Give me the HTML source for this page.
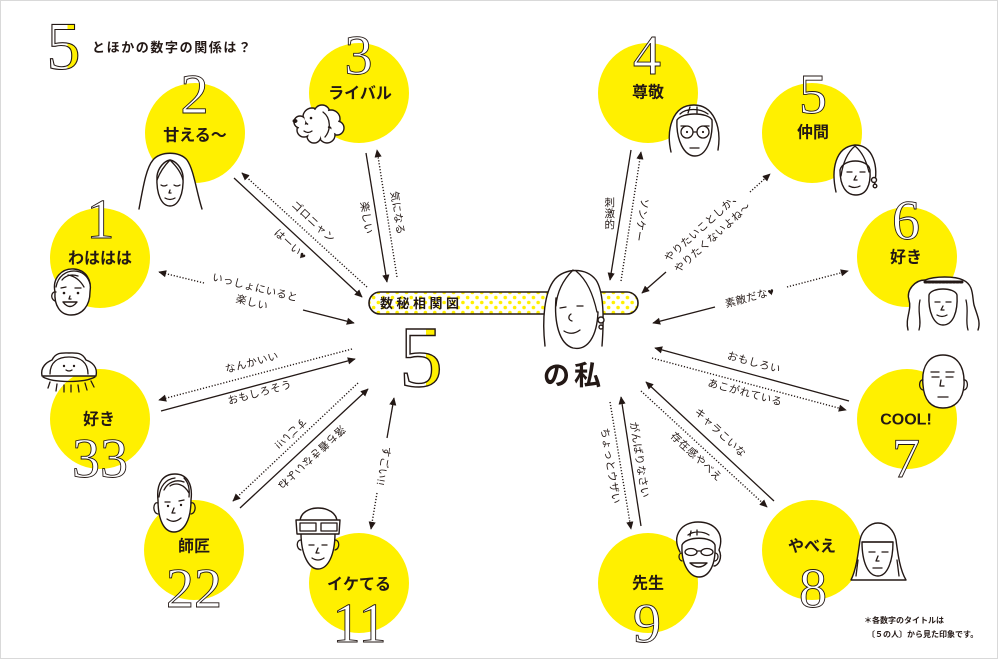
<!DOCTYPE html>
<html><head><meta charset="utf-8">
<style>
html,body{margin:0;padding:0;background:#fff;}
svg{display:block;}
.cl{font-family:"Liberation Sans","Noto Sans CJK JP",sans-serif;font-weight:bold;font-size:16px;fill:#231815;}
.l{font-family:"Liberation Sans","Noto Sans CJK JP",sans-serif;font-size:10.5px;fill:#231815;letter-spacing:0.5px;}
.dg{font-family:"Liberation Serif",serif;font-size:56px;fill:#fff;stroke:#231815;stroke-width:0.9;}
.f{fill:#fff;stroke:#231815;stroke-width:1.4;stroke-linecap:round;stroke-linejoin:round;}
.s{fill:none;stroke:#231815;stroke-width:1.3;stroke-linecap:round;stroke-linejoin:round;}
.ln{stroke:#231815;stroke-width:1.3;fill:none;}
.dt{stroke:#231815;stroke-width:1.4;fill:none;stroke-dasharray:1.2 1.8;}
</style></head>
<body>
<svg width="1000" height="660" viewBox="0 0 1000 660" xmlns="http://www.w3.org/2000/svg">
<defs>
<marker id="a" viewBox="0 0 10 10" refX="9" refY="5" markerWidth="8" markerHeight="8" markerUnits="userSpaceOnUse" orient="auto">
<path d="M0,0.5 L10,5 L0,9.5 z" fill="#231815"/></marker>
<pattern id="dots" width="9.4" height="10" patternUnits="userSpaceOnUse">
<rect width="9.4" height="10" fill="#fff"/>
<circle cx="2.35" cy="2.5" r="1.8" fill="#fff000"/>
<circle cx="7.05" cy="7.5" r="1.8" fill="#fff000"/>
</pattern>
<linearGradient id="hy" x1="0" y1="0" x2="1" y2="0">
<stop offset="0" stop-color="#fff"/><stop offset="0.62" stop-color="#fff"/>
<stop offset="0.62" stop-color="#fff000"/><stop offset="1" stop-color="#fff000"/>
</linearGradient>
</defs>
<rect x="0.5" y="0.5" width="997" height="658" fill="#fff" stroke="#d9d9d9" stroke-width="1"/>

<!-- circles -->
<g fill="#fff000">
<circle cx="100" cy="258" r="50"/>
<circle cx="195" cy="133" r="50"/>
<circle cx="359" cy="93" r="50"/>
<circle cx="100" cy="419" r="50"/>
<circle cx="194" cy="550" r="50"/>
<circle cx="359" cy="583" r="50"/>
<circle cx="648" cy="93" r="50"/>
<circle cx="812" cy="133" r="50"/>
<circle cx="907" cy="257" r="50"/>
<circle cx="907" cy="419" r="50"/>
<circle cx="812" cy="550" r="50"/>
<circle cx="648" cy="583" r="50"/>
</g>

<!-- title -->
<text x="63.5" y="69" text-anchor="middle" class="dg" style="font-size:68px;fill:url(#hy);stroke-width:1.1;">5</text>
<text x="92" y="52" style="font-family:'Liberation Sans','Noto Sans CJK JP',sans-serif;font-weight:bold;font-size:13px;letter-spacing:1.6px;fill:#231815;">とほかの数字の関係は？</text>

<!-- digits -->
<text class="dg" x="194.5" y="113" text-anchor="middle">2</text>
<text class="dg" x="100.5" y="238" text-anchor="middle">1</text>
<text class="dg" x="358.5" y="74" text-anchor="middle">3</text>
<text class="dg" x="647" y="74" text-anchor="middle">4</text>
<text class="dg" x="813" y="113" text-anchor="middle">5</text>
<text class="dg" x="906" y="239" text-anchor="middle">6</text>
<text class="dg" x="906" y="477" text-anchor="middle">7</text>
<text class="dg" x="813" y="607" text-anchor="middle">8</text>
<text class="dg" x="647" y="642" text-anchor="middle">9</text>
<text class="dg" x="100" y="477" text-anchor="middle">33</text>
<text class="dg" x="194" y="607" text-anchor="middle">22</text>
<text class="dg" x="359.5" y="642" text-anchor="middle">11</text>

<!-- circle labels -->
<g class="cl" text-anchor="middle" dominant-baseline="central">
<text x="100" y="259">わははは</text>
<text x="195" y="136">甘える〜</text>
<text x="360" y="94">ライバル</text>
<text x="99" y="420">好き</text>
<text x="194" y="547">師匠</text>
<text x="359" y="585">イケてる</text>
<text x="648" y="93">尊敬</text>
<text x="813" y="133">仲間</text>
<text x="906" y="258">好き</text>
<text x="906" y="420">COOL!</text>
<text x="812" y="547">やべえ</text>
<text x="648" y="584">先生</text>
</g>

<!-- connectors -->
<g>
<line class="ln" x1="234" y1="178" x2="362" y2="297" marker-end="url(#a)"/>
<line class="dt" x1="367" y1="287" x2="242" y2="173" marker-end="url(#a)"/>
<line class="ln" x1="366" y1="153" x2="387" y2="282" marker-end="url(#a)"/>
<line class="dt" x1="397" y1="277" x2="377" y2="150" marker-end="url(#a)"/>
<line class="dt" x1="204" y1="283" x2="159" y2="272" marker-end="url(#a)"/>
<line class="ln" x1="303" y1="310" x2="354" y2="323" marker-end="url(#a)"/>
<line class="dt" x1="352" y1="349" x2="159" y2="400" marker-end="url(#a)"/>
<line class="ln" x1="161" y1="411" x2="355" y2="359" marker-end="url(#a)"/>
<line class="dt" x1="358" y1="383" x2="233" y2="501" marker-end="url(#a)"/>
<line class="ln" x1="240" y1="508" x2="368" y2="389" marker-end="url(#a)"/>
<line class="ln" x1="387" y1="438" x2="394" y2="398" marker-end="url(#a)"/>
<line class="dt" x1="377" y1="493" x2="371" y2="529" marker-end="url(#a)"/>

<line class="ln" x1="631" y1="150" x2="610" y2="280" marker-end="url(#a)"/>
<line class="dt" x1="621" y1="281" x2="641" y2="152" marker-end="url(#a)"/>
<line class="dt" x1="750" y1="192" x2="770" y2="174" marker-end="url(#a)"/>
<line class="ln" x1="666" y1="272" x2="642" y2="293" marker-end="url(#a)"/>
<line class="dt" x1="787" y1="287" x2="848" y2="271" marker-end="url(#a)"/>
<line class="ln" x1="715" y1="307" x2="653" y2="323" marker-end="url(#a)"/>
<line class="ln" x1="849" y1="401" x2="655" y2="348" marker-end="url(#a)"/>
<line class="dt" x1="652" y1="358" x2="846" y2="410" marker-end="url(#a)"/>
<line class="ln" x1="774" y1="501" x2="646" y2="382" marker-end="url(#a)"/>
<line class="dt" x1="641" y1="391" x2="767" y2="507" marker-end="url(#a)"/>
<line class="dt" x1="610" y1="402" x2="631" y2="529" marker-end="url(#a)"/>
<line class="ln" x1="641" y1="526" x2="621" y2="397" marker-end="url(#a)"/>
</g>

<!-- connector labels -->
<g class="l" text-anchor="middle" dominant-baseline="central">
<text transform="translate(313,222) rotate(43)">ゴロニャン</text>
<text transform="translate(290,245) rotate(43)">はーい♥</text>
<text transform="translate(366,218) rotate(81)">楽しい</text>
<text transform="translate(397,213) rotate(81)">気になる</text>
<text transform="translate(255,288) rotate(14)">いっしょにいると</text>
<text transform="translate(252,303) rotate(14)">楽しい</text>
<text transform="translate(252,363) rotate(-15)">なんかいい</text>
<text transform="translate(260,393) rotate(-15)">おもしろそう</text>
<text transform="translate(290,433) rotate(137)">すごい!!</text>
<text transform="translate(311,457) rotate(137)">落ち着きないよね</text>
<text transform="translate(383,466) rotate(100)">すごい!!</text>

<text x="610" y="203">刺</text>
<text x="610" y="214">激</text>
<text x="610" y="225">的</text>
<text transform="translate(641,220) rotate(99)">ソンケー</text>
<text transform="translate(703,227) rotate(-42)">やりたいことしか、</text>
<text transform="translate(713,238) rotate(-42)">やりたくないよね〜</text>
<text transform="translate(750,298) rotate(-15)">素敵だな♥</text>
<text transform="translate(754,363) rotate(15)">おもしろい</text>
<text transform="translate(745,393) rotate(15)">あこがれている</text>
<text transform="translate(720,433) rotate(43)">キャラこいな</text>
<text transform="translate(696,457) rotate(43)">存在感やべえ</text>
<text transform="translate(610,466) rotate(81)">ちょっとウザい</text>
<text transform="translate(639,460) rotate(81)">がんばりなさい</text>
</g>

<!-- center pill -->
<rect x="369" y="292" width="269" height="22" rx="11" fill="url(#dots)" stroke="#231815" stroke-width="1.6"/>
<text x="380" y="308" style="font-family:'Liberation Sans','Noto Sans CJK JP',sans-serif;font-weight:bold;font-size:13px;letter-spacing:3.5px;fill:#231815;">数秘相関図</text>
<text class="dg" x="421" y="386" text-anchor="middle" style="font-size:87px;fill:url(#hy);stroke-width:1.4;">5</text>

<!-- center face 私 -->
<g>
<path class="f" d="M545,346 C542,320 544,292 555,279 C565,268 586,267 596,280 C604,292 604,320 602,346"/>
<path class="f" d="M556,298 C554,322 559,344 573,348 C588,351 597,336 598,312"/>
<path class="s" d="M573,270 C564,279 557,291 556,306"/>
<path class="s" d="M576,271 C587,280 593,294 597,312"/>
<path class="s" d="M560,308 l6,-1 M577,306 l6,0"/>
<path class="s" d="M571,314 c-3,2 -3,6 1,7"/>
<path class="s" d="M564,331 q8,5 16,-1"/>
<circle class="f" cx="601" cy="320" r="3"/>
<circle class="f" cx="601" cy="327" r="2"/>
</g>
<text x="543" y="385" style="font-family:'Liberation Sans','Noto Sans CJK JP',sans-serif;font-weight:bold;font-size:27px;letter-spacing:4px;fill:#231815;">の私</text>

<!-- face 1 boy -->
<g>
<path class="f" d="M55,292 C52,278 62,268 74,269 C86,270 92,280 90,292 C90,306 82,315 71,315 C60,315 54,305 55,292 Z"/>
<path class="s" d="M56,287 C58,276 66,271 74,271 C82,271 88,276 90,284 M62,280 C66,275 72,274 78,276 M68,275 C74,276 80,280 84,287"/>
<path class="s" d="M56,292 c-5,-1 -6,7 -1,9"/>
<path class="s" d="M61,288 l5,-1 M75,288 l6,0"/>
<circle cx="64" cy="293" r="1.3" fill="#231815"/><circle cx="78" cy="293" r="1.3" fill="#231815"/>
<path class="s" d="M70,296 l-1,3 l2,0"/>
<path class="f" d="M63,302 q7,9 14,0 z"/>
</g>

<!-- face 2 long hair -->
<g>
<path class="f" d="M139,209 C143,188 146,168 153,160 C160,151 180,151 187,160 C194,170 196,190 202,209"/>
<path class="f" d="M157,176 C156,195 162,206 170,206 C178,206 184,195 183,176 C182,168 176,161 170,160 C164,161 158,168 157,176 Z"/>
<path class="s" d="M170,160 C165,165 160,172 157,180 M170,160 C176,166 181,172 183,180"/>
<path class="s" d="M161,185 q3,2 6,0 M174,185 q3,2 6,0"/>
<path class="s" d="M170,190 l-1,3 l2,0"/>
<path class="s" d="M165,198 q5,3 10,0"/>
</g>

<!-- dog -->
<g>
<g fill="#fff" stroke="#231815" stroke-width="1.4">
<circle cx="312" cy="117" r="9"/><circle cx="322" cy="113" r="8"/><circle cx="331" cy="119" r="9"/>
<circle cx="337" cy="128" r="7"/><circle cx="327" cy="135" r="8"/><circle cx="314" cy="136" r="7"/>
<circle cx="304" cy="130" r="7"/><circle cx="300" cy="122" r="6"/>
</g>
<g fill="#fff">
<circle cx="312" cy="117" r="7.6"/><circle cx="322" cy="113" r="6.6"/><circle cx="331" cy="119" r="7.6"/>
<circle cx="337" cy="128" r="5.6"/><circle cx="327" cy="135" r="6.6"/><circle cx="314" cy="136" r="5.6"/>
<circle cx="304" cy="130" r="5.6"/><circle cx="300" cy="122" r="4.6"/><circle cx="318" cy="126" r="10"/>
</g>
<ellipse cx="295" cy="121" rx="2.5" ry="2" fill="#231815"/>
<circle cx="311" cy="118" r="1.3" fill="#231815"/>
<path class="s" d="M323,112 C331,118 331,130 325,137"/>
<path class="s" d="M304,131 q4,3 8,0"/>
</g>

<!-- face 33 jellyfish -->
<g>
<path class="f" d="M42,376 C40,367 47,362 52,360 C56,352 62,353 69,353 C76,353 82,352 86,360 C92,362 98,367 96,376 Z"/>
<path class="s" d="M50,374 C50,362 58,357 69,357 C80,357 88,362 88,374"/>
<path class="s" d="M43,377 C54,383 84,383 95,377"/>
<path class="s" d="M50,382 l-2,6 M57,384 l-1,7 M64,385 l0,7 M71,385 l0,7 M78,385 l1,7 M85,383 l2,7 M91,381 l3,6"/>
<circle cx="64" cy="366" r="1.2" fill="#231815"/><circle cx="74" cy="366" r="1.2" fill="#231815"/>
<path class="s" d="M66,370 q3,2 6,0"/>
</g>

<!-- face 22 man -->
<g>
<path class="f" d="M158,500 C156,482 164,474 175,474 C187,474 193,484 191,500 C191,520 184,532 174,532 C164,532 158,520 158,500 Z"/>
<path class="s" d="M158,503 c-5,-2 -6,10 0,11 M191,503 c5,-2 6,10 0,11"/>
<path class="s" d="M159,497 C160,486 166,479 175,478 M164,490 C168,482 176,479 184,482 M170,486 C176,482 184,484 189,493 M189,497 C190,488 188,482 184,478"/>
<path class="s" d="M165,502 l5,0 M179,501 l5,-1"/>
<circle cx="168" cy="506" r="1.2" fill="#231815"/><circle cx="181" cy="505" r="1.2" fill="#231815"/>
<path class="s" d="M174,508 l-2,5 l3,0"/>
<path class="s" d="M167,519 q7,5 14,-1"/>
</g>

<!-- face 11 goggles -->
<g>
<path class="f" d="M301,533 C301,555 309,569 318,569 C328,569 335,555 335,533 Z"/>
<path class="s" d="M301,540 c-5,0 -5,9 0,10 M335,540 c5,0 5,9 0,10"/>
<path class="f" d="M300,522 C300,512 310,508 318,508 C328,508 337,513 337,522 Z"/>
<path class="f" d="M296,520 L340,520 L339,534 L297,534 Z"/>
<path class="s" d="M300,523 l16,0 l0,8 l-16,0 z M321,523 l16,0 l0,8 l-16,0 z"/>
<path class="s" d="M309,545 l5,0 M322,545 l5,0"/>
<path class="s" d="M318,548 l-2,5 l3,0"/>
<path class="s" d="M312,558 q6,4 12,0"/>
</g>

<!-- face 4 glasses woman -->
<g>
<path class="f" d="M671,152 C666,130 672,105 694,105 C713,105 722,126 718,150"/>
<path class="f" d="M677,120 C676,140 684,156 695,156 C706,156 713,140 712,120 C708,112 682,112 677,120 Z"/>
<path class="s" d="M680,114 C686,108 700,108 708,114 M690,107 l-2,6 M697,107 l0,6"/>
<circle class="s" cx="687" cy="132" r="6"/><circle class="s" cx="703" cy="132" r="6"/>
<path class="s" d="M693,132 l4,0 M681,126 l5,0 M704,126 l5,0"/>
<circle cx="687" cy="132" r="1.1" fill="#231815"/><circle cx="703" cy="132" r="1.1" fill="#231815"/>
<path class="s" d="M690,148 l9,0"/>
</g>

<!-- face 5 woman -->
<g>
<path class="f" d="M836,192 C831,170 835,147 855,145 C873,145 879,166 874,187"/>
<path class="f" d="M840,170 C840,186 846,195 856,195 C866,195 871,186 870,170 C868,158 843,158 840,170 Z"/>
<path class="s" d="M855,146 C848,152 843,162 841,176 M855,146 C862,152 866,160 869,172"/>
<path class="s" d="M847,172 l5,0 M860,172 l5,0"/>
<path class="s" d="M856,176 l-2,4 l3,0"/>
<path class="s" d="M849,186 q6,3 11,0"/>
<circle class="f" cx="874" cy="180" r="2.5"/><circle class="f" cx="875" cy="186" r="1.8"/>
</g>

<!-- face 6 wavy hair crown -->
<g>
<path class="f" d="M908,330 C905,318 912,310 909,300 C906,290 915,280 925,280 C935,276 955,276 963,280 C974,285 972,296 974,305 C977,315 981,322 978,330"/>
<path class="f" d="M929,295 C928,312 934,325 943,325 C953,325 958,312 957,295 C955,287 931,287 929,295 Z"/>
<path class="s" d="M920,300 C917,312 922,320 919,330 M966,300 C969,312 965,320 968,330"/>
<path class="s" d="M925,282 L963,282" style="stroke-width:3;stroke-dasharray:2 1.5"/>
<path class="s" d="M935,302 l5,0 M946,302 l5,0"/>
<path class="s" d="M943,306 l-2,4 l3,0"/>
<path class="s" d="M937,315 q5,3 10,0"/>
</g>

<!-- face 7 bald -->
<g>
<path class="f" d="M923,385 C921,365 930,355 943,355 C956,355 965,365 964,385 C963,400 955,408 943,408 C931,408 924,400 923,385 Z"/>
<path class="s" d="M923,380 c-4,-1 -5,9 0,10 M964,380 c4,-1 5,9 0,10"/>
<path class="s" d="M931,372 l8,0 M946,372 l8,0 M932,377 l7,0 M946,377 l7,0"/>
<path class="s" d="M941,380 l-1,6 l4,0"/>
<path class="s" d="M938,397 l10,0"/>
</g>

<!-- face 8 bob -->
<g>
<path class="f" d="M851,580 C856,570 858,555 860,540 C862,530 870,523 878,523 C887,523 894,530 896,540 C898,555 900,570 906,580 Z"/>
<path class="f" d="M862,542 C862,562 868,576 878,576 C887,576 893,562 893,542 Z"/>
<path class="s" d="M862,542 L893,542"/>
<path class="s" d="M858,560 l-2,16 M897,560 l2,16"/>
<path class="s" d="M869,552 l6,0 M882,552 l6,0"/>
<path class="s" d="M878,556 l-2,5 l3,0"/>
<path class="s" d="M873,568 l9,0"/>
</g>

<!-- face 9 old man -->
<g>
<path class="f" d="M680,552 C671,535 682,522 698,522 C714,522 725,533 719,550 C723,558 718,566 714,566"/>
<path class="f" d="M682,545 C681,565 690,577 699,577 C709,577 716,565 715,545 C712,536 686,536 682,545 Z"/>
<path class="s" d="M688,535 C693,531 703,531 709,535 M691,531 l-1,5 M697,530 l0,5"/>
<ellipse class="s" cx="691" cy="552" rx="6" ry="3.5"/><ellipse class="s" cx="707" cy="552" rx="6" ry="3.5"/>
<path class="s" d="M697,551 l4,0"/>
<path class="f" d="M690,563 q9,8 17,0 z"/>
<path class="s" d="M682,553 c-4,0 -4,7 0,8 M715,553 c4,0 4,7 0,8"/>
</g>

<!-- footnote -->
<text x="864" y="623" style="font-family:'Liberation Sans','Noto Sans CJK JP',sans-serif;font-weight:bold;font-size:8px;fill:#231815;">＊各数字のタイトルは</text>
<text x="867" y="637" style="font-family:'Liberation Sans','Noto Sans CJK JP',sans-serif;font-weight:bold;font-size:8px;fill:#231815;">〔５の人〕から見た印象です。</text>
</svg>
</body></html>
